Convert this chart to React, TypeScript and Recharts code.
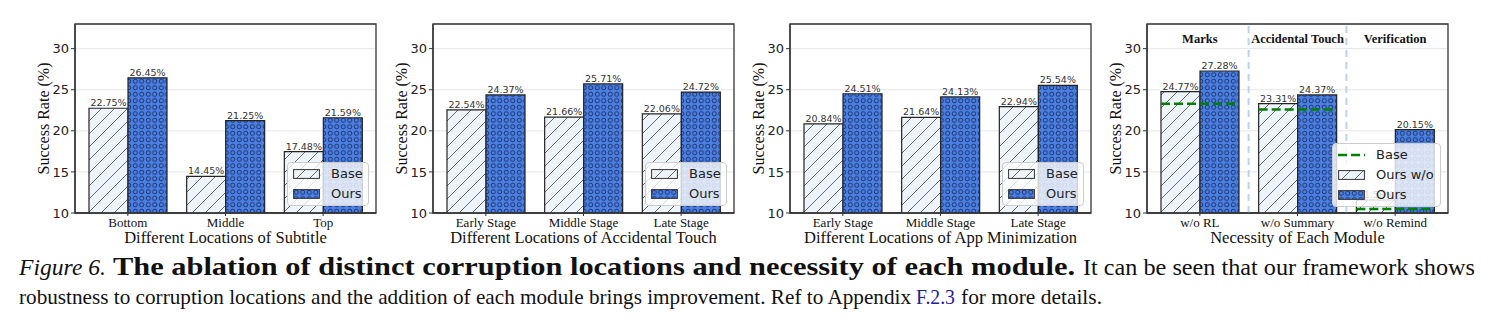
import React from "react";
import {
  BarChart,
  Bar,
  XAxis,
  YAxis,
  CartesianGrid,
  LabelList,
  ReferenceLine,
  ReferenceArea,
} from "recharts";

// y scale shared by all four panels
const yTicks = [10, 15, 20, 25, 30];
const yDomain = [10, 33];
// matplotlib-like x limits around 3 bar groups
const xLimits = [-0.54, 2.54];

// panel 1
const subtitleCats = ["Bottom", "Middle", "Top"];
const subtitleBase = [22.75, 14.45, 17.48];
const subtitleOurs = [26.45, 21.25, 21.59];

// panel 2 + 3
const stageCats = ["Early Stage", "Middle Stage", "Late Stage"];
const touchBase = [22.54, 21.66, 22.06];
const touchOurs = [24.37, 25.71, 24.72];
const minimizeBase = [20.84, 21.64, 22.94];
const minimizeOurs = [24.51, 24.13, 25.54];

// panel 4
const moduleCats = ["w/o RL", "w/o Summary", "w/o Remind"];
const moduleGroups = ["Marks", "Accidental Touch", "Verification"];
const moduleBaseLine = [23.3, 22.6, 10.5];
const moduleOursWo = [24.77, 23.31, 11.58];
const moduleOurs = [27.28, 24.37, 20.15];
const moduleDividers = [0.5, 1.5];

const W = 371;
const H = 250;
const SANS = "DejaVu Sans";
const SERIF = "Liberation Serif";
const BLUE = "#4a80e6";
const PALE = "#eef4fb";

const fmt = (v: any) => `${Number(v).toFixed(2)}%`;

// caption pieces: text, x, width, style, size
const captionLine1 = [
  { t: "Figure 6.", x: 19, w: 87, style: "italic", size: 24 },
  { t: "The ablation of distinct corruption locations and necessity of each module.", x: 113, w: 962, style: "bold", size: 25 },
  { t: "It can be seen that our framework shows", x: 1083, w: 392, style: "normal", size: 24 },
];
const captionLine2 = [
  { t: "robustness to corruption locations and the addition of each module brings improvement. Ref to Appendix", x: 19, w: 892, style: "normal", size: 22 },
  { t: "F.2.3", x: 916, w: 39, style: "link", size: 22 },
  { t: "for more details.", x: 961, w: 141, style: "normal", size: 22 },
];

function Patterns() {
  return (
    <svg width={0} height={0} style={{ position: "absolute" }}>
      <defs>
        <pattern id="hatchBase" patternUnits="userSpaceOnUse" width={13} height={13}>
          <rect width={13} height={13} fill={PALE} />
          <path d="M0,13 L13,0 M-2,2 L2,-2 M11,15 L15,11" stroke="#444" strokeWidth={0.8} />
        </pattern>
        <pattern id="dotsOurs" patternUnits="userSpaceOnUse" width={6.5} height={6.5}>
          <rect width={6.5} height={6.5} fill={BLUE} />
          <circle cx={3.25} cy={3.25} r={2.1} fill="none" stroke="#1b2a55" strokeWidth={0.9} />
        </pattern>
      </defs>
    </svg>
  );
}

function Swatch({ kind }: { kind: string }) {
  if (kind === "line") {
    return (
      <svg width={27} height={10}>
        <line x1={0} x2={27} y1={5} y2={5} stroke="green" strokeWidth={2.5} strokeDasharray="9 4" />
      </svg>
    );
  }
  return (
    <svg width={27} height={10}>
      <rect
        x={0.6}
        y={0.6}
        width={25.8}
        height={8.8}
        fill={kind === "base" ? "url(#hatchBase)" : "url(#dotsOurs)"}
        stroke="#333"
        strokeWidth={1}
      />
    </svg>
  );
}

function LegendBox({ items, left, top, width }: any) {
  return (
    <div
      style={{
        position: "absolute",
        left,
        top,
        width,
        boxSizing: "border-box",
        background: "rgba(255,255,255,0.8)",
        border: "1px solid #cccccc",
        borderRadius: 4,
        padding: "1px 0 1px 5px",
      }}
    >
      {items.map((it: any) => (
        <div key={it.name} style={{ display: "flex", alignItems: "center", height: 20 }}>
          <Swatch kind={it.kind} />
          <span style={{ marginLeft: 11, fontFamily: SANS, fontSize: 13, color: "#222", lineHeight: "20px" }}>
            {it.name}
          </span>
        </div>
      ))}
    </div>
  );
}

function Panel({ left, cats, base, ours, xLabel, line, groups, dividers, legend }: any) {
  const rows = cats.map((c: string, i: number) => ({
    cat: c,
    idx: i,
    base: base[i],
    ours: ours[i],
    line: line ? line[i] : null,
  }));
  return (
    <div style={{ position: "absolute", left, top: 0, width: W, height: H }}>
      <BarChart
        width={W}
        height={H}
        data={rows}
        margin={{ top: 24, right: 10, left: 0, bottom: 0 }}
        barGap={0}
      >
        <CartesianGrid horizontal vertical={false} stroke="#e6e6e6" strokeWidth={1} />
        <XAxis
          dataKey="cat"
          interval={0}
          height={37}
          padding={{ left: 4, right: 4 }}
          tickSize={3}
          tickMargin={2}
          axisLine={{ stroke: "#333", strokeWidth: 1.3 }}
          tickLine={{ stroke: "#333" }}
          tick={{ fontFamily: SERIF, fontSize: 13, fill: "#111" }}
          label={{
            value: xLabel,
            position: "insideBottom",
            offset: 7,
            fontFamily: SERIF,
            fontSize: 16.5,
            fill: "#111",
          }}
        />
        <XAxis xAxisId="num" type="number" dataKey="idx" domain={xLimits} allowDataOverflow hide />
        {line && <XAxis xAxisId="line" dataKey="cat" padding={{ left: 4, right: 4 }} hide />}
        <YAxis
          width={60}
          domain={yDomain}
          ticks={yTicks}
          allowDataOverflow
          tickSize={4}
          tickMargin={2}
          axisLine={{ stroke: "#333", strokeWidth: 1.3 }}
          tickLine={{ stroke: "#333" }}
          tick={{ fontFamily: SANS, fontSize: 13, fill: "#222" }}
          label={{
            value: "Success Rate (%)",
            angle: -90,
            position: "insideLeft",
            offset: 28,
            fontFamily: SERIF,
            fontSize: 16,
            fill: "#111",
            style: { textAnchor: "middle" },
          }}
        />
        {dividers &&
          dividers.map((d: number) => (
            <ReferenceLine
              key={d}
              xAxisId="num"
              x={d}
              stroke="#bcd3ef"
              strokeWidth={2}
              strokeDasharray="7 5"
            />
          ))}
        {groups &&
          groups.map((g: string, i: number) => (
            <ReferenceLine
              key={g}
              x={cats[i]}
              stroke="none"
              label={{
                value: g,
                position: "insideTop",
                offset: 10,
                fontFamily: SERIF,
                fontWeight: "bold",
                fontSize: 12.5,
                fill: "#111",
              }}
            />
          ))}
        <Bar
          dataKey="base"
          fill="url(#hatchBase)"
          stroke="#222"
          strokeWidth={1.2}
          barSize={39}
          isAnimationActive={false}
        >
          <LabelList dataKey="base" position="top" offset={2} formatter={fmt} fontSize={9.5} fontFamily={SANS} fill="#333" />
        </Bar>
        <Bar
          dataKey="ours"
          fill="url(#dotsOurs)"
          stroke="#222"
          strokeWidth={1.2}
          barSize={39}
          isAnimationActive={false}
        >
          <LabelList dataKey="ours" position="top" offset={2} formatter={fmt} fontSize={9.5} fontFamily={SANS} fill="#333" />
        </Bar>
        {line && (
          <Bar
            xAxisId="line"
            dataKey="line"
            barSize={78}
            isAnimationActive={false}
            shape={(p: any) => (
              <line
                x1={p.x}
                x2={p.x + p.width}
                y1={p.y}
                y2={p.y}
                stroke="green"
                strokeWidth={2.5}
                strokeDasharray="9 4"
              />
            )}
          />
        )}
        <ReferenceArea
          xAxisId="num"
          x1={xLimits[0]}
          x2={xLimits[1]}
          y1={yDomain[0]}
          y2={yDomain[1]}
          fill="none"
          fillOpacity={0}
          stroke="#333"
          strokeWidth={1.3}
          ifOverflow="visible"
        />
      </BarChart>
      <LegendBox {...legend} />
    </div>
  );
}

const twoItems = [
  { name: "Base", kind: "base" },
  { name: "Ours", kind: "ours" },
];
const threeItems = [
  { name: "Base", kind: "line" },
  { name: "Ours w/o", kind: "base" },
  { name: "Ours", kind: "ours" },
];

function CaptionPiece({ p, y }: any) {
  return (
    <text
      x={p.x}
      y={y}
      textLength={p.w}
      lengthAdjust="spacingAndGlyphs"
      fontSize={p.size}
      fontStyle={p.style === "italic" ? "italic" : "normal"}
      fontWeight={p.style === "bold" ? "bold" : "normal"}
      fill={p.style === "link" ? "#1c1c9c" : "#111"}
    >
      {p.t}
    </text>
  );
}

export default function App() {
  return (
    <div
      style={{
        position: "absolute",
        left: 0,
        top: 0,
        width: 1491,
        height: 329,
        background: "#fff",
        overflow: "hidden",
      }}
    >
      <Patterns />
      <Panel
        left={15}
        cats={subtitleCats}
        base={subtitleBase}
        ours={subtitleOurs}
        xLabel="Different Locations of Subtitle"
        legend={{ items: twoItems, left: 272, top: 162, width: 82 }}
      />
      <Panel
        left={373}
        cats={stageCats}
        base={touchBase}
        ours={touchOurs}
        xLabel="Different Locations of Accidental Touch"
        legend={{ items: twoItems, left: 272, top: 162, width: 82 }}
      />
      <Panel
        left={730}
        cats={stageCats}
        base={minimizeBase}
        ours={minimizeOurs}
        xLabel="Different Locations of App Minimization"
        legend={{ items: twoItems, left: 272, top: 162, width: 82 }}
      />
      <Panel
        left={1087}
        cats={moduleCats}
        base={moduleOursWo}
        ours={moduleOurs}
        line={moduleBaseLine}
        groups={moduleGroups}
        dividers={moduleDividers}
        xLabel="Necessity of Each Module"
        legend={{ items: threeItems, left: 245, top: 143, width: 109 }}
      />
      <svg
        width={1491}
        height={84}
        style={{ position: "absolute", left: 0, top: 245 }}
        fontFamily={SERIF}
      >
        {captionLine1.map((p) => (
          <CaptionPiece key={p.t} p={p} y={30} />
        ))}
        {captionLine2.map((p) => (
          <CaptionPiece key={p.t} p={p} y={59} />
        ))}
      </svg>
    </div>
  );
}
